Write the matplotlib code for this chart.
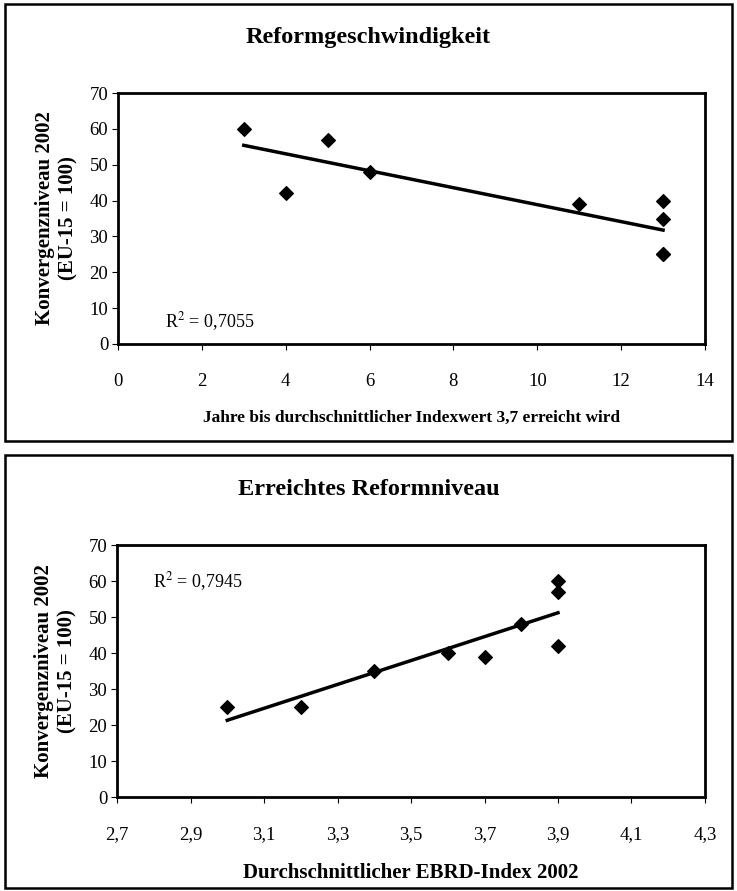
import numpy as np
import matplotlib.pyplot as plt
from matplotlib.patches import Rectangle

# Reformgeschwindigkeit
jahre = [3, 4, 5, 6, 11, 13, 13, 13, 13]
konv_oben = [60, 42, 57, 48, 39, 40, 35, 25, 25]
r2_oben = "0,7055"

# Erreichtes Reformniveau
ebrd = [3.0, 3.2, 3.4, 3.6, 3.7, 3.8, 3.9, 3.9, 3.9]
konv_unten = [25, 25, 35, 40, 39, 48, 60, 57, 42]
r2_unten = "0,7945"

x_ticks_oben = [0, 2, 4, 6, 8, 10, 12, 14]
x_ticks_unten = [2.7, 2.9, 3.1, 3.3, 3.5, 3.7, 3.9, 4.1, 4.3]
y_ticks = [0, 10, 20, 30, 40, 50, 60, 70]

plt.rcParams['font.family'] = ['Liberation Serif', 'DejaVu Serif']
plt.rcParams['mathtext.fontset'] = 'stix'

fig = plt.figure(figsize=(7.37, 8.91), dpi=100)

# panel frames
for y0, y1 in [(4, 441), (455, 888)]:
    fig.patches.append(Rectangle((5 / 737, 1 - y1 / 891), 727 / 737, (y1 - y0) / 891,
                                 transform=fig.transFigure, fill=False, lw=1.8, ec="black"))


def panel(ax, x, y, xticks, xlim, r2, r2pos, xlabel, xlsize, fmt):
    ax.scatter(x, y, marker="D", s=48, color="black", zorder=3)
    k, d = np.polyfit(x, y, 1)
    xs = np.array([min(x), max(x)])
    ax.plot(xs, k * xs + d, color="black", lw=2.5, zorder=2)
    ax.set_xlim(xlim)
    ax.set_ylim(0, 70)
    ax.set_xticks(xticks)
    ax.set_xticklabels([fmt(t) for t in xticks])
    ax.set_yticks(y_ticks)
    ax.tick_params(axis="x", direction="out", length=4, pad=17, labelsize=13.5)
    ax.tick_params(axis="y", direction="out", length=4, pad=3, labelsize=13.5)
    for s in ax.spines.values():
        s.set_linewidth(2)
    ax.text(r2pos[0], r2pos[1], "R$^2$ = " + r2, transform=ax.transAxes, fontsize=13)
    ax.set_ylabel("Konvergenzniveau 2002\n(EU-15 = 100)", fontsize=15,
                  fontweight="bold", labelpad=8, linespacing=1.25)
    ax.set_xlabel(xlabel, fontsize=xlsize, fontweight="bold", labelpad=14)


ax1 = fig.add_axes([118 / 737, 1 - 344 / 891, 587 / 737, 251 / 891])
panel(ax1, jahre, konv_oben, x_ticks_oben, (0, 14), r2_oben, (0.080, 0.065),
      "Jahre bis durchschnittlicher Indexwert 3,7 erreicht wird", 12.5,
      lambda t: str(t))
fig.text(0.5, 1 - 37 / 891, "Reformgeschwindigkeit", ha="center", va="center",
         fontsize=17.5, fontweight="bold")

ax2 = fig.add_axes([117 / 737, 1 - 797 / 891, 588 / 737, 252 / 891])
panel(ax2, ebrd, konv_unten, x_ticks_unten, (2.7, 4.3), r2_unten, (0.062, 0.83),
      "Durchschnittlicher EBRD-Index 2002", 15,
      lambda t: f"{t:.1f}".replace(".", ","))
fig.text(0.5, 1 - 489 / 891, "Erreichtes Reformniveau", ha="center", va="center",
         fontsize=17.5, fontweight="bold")

fig.savefig("out.png", dpi=100)
